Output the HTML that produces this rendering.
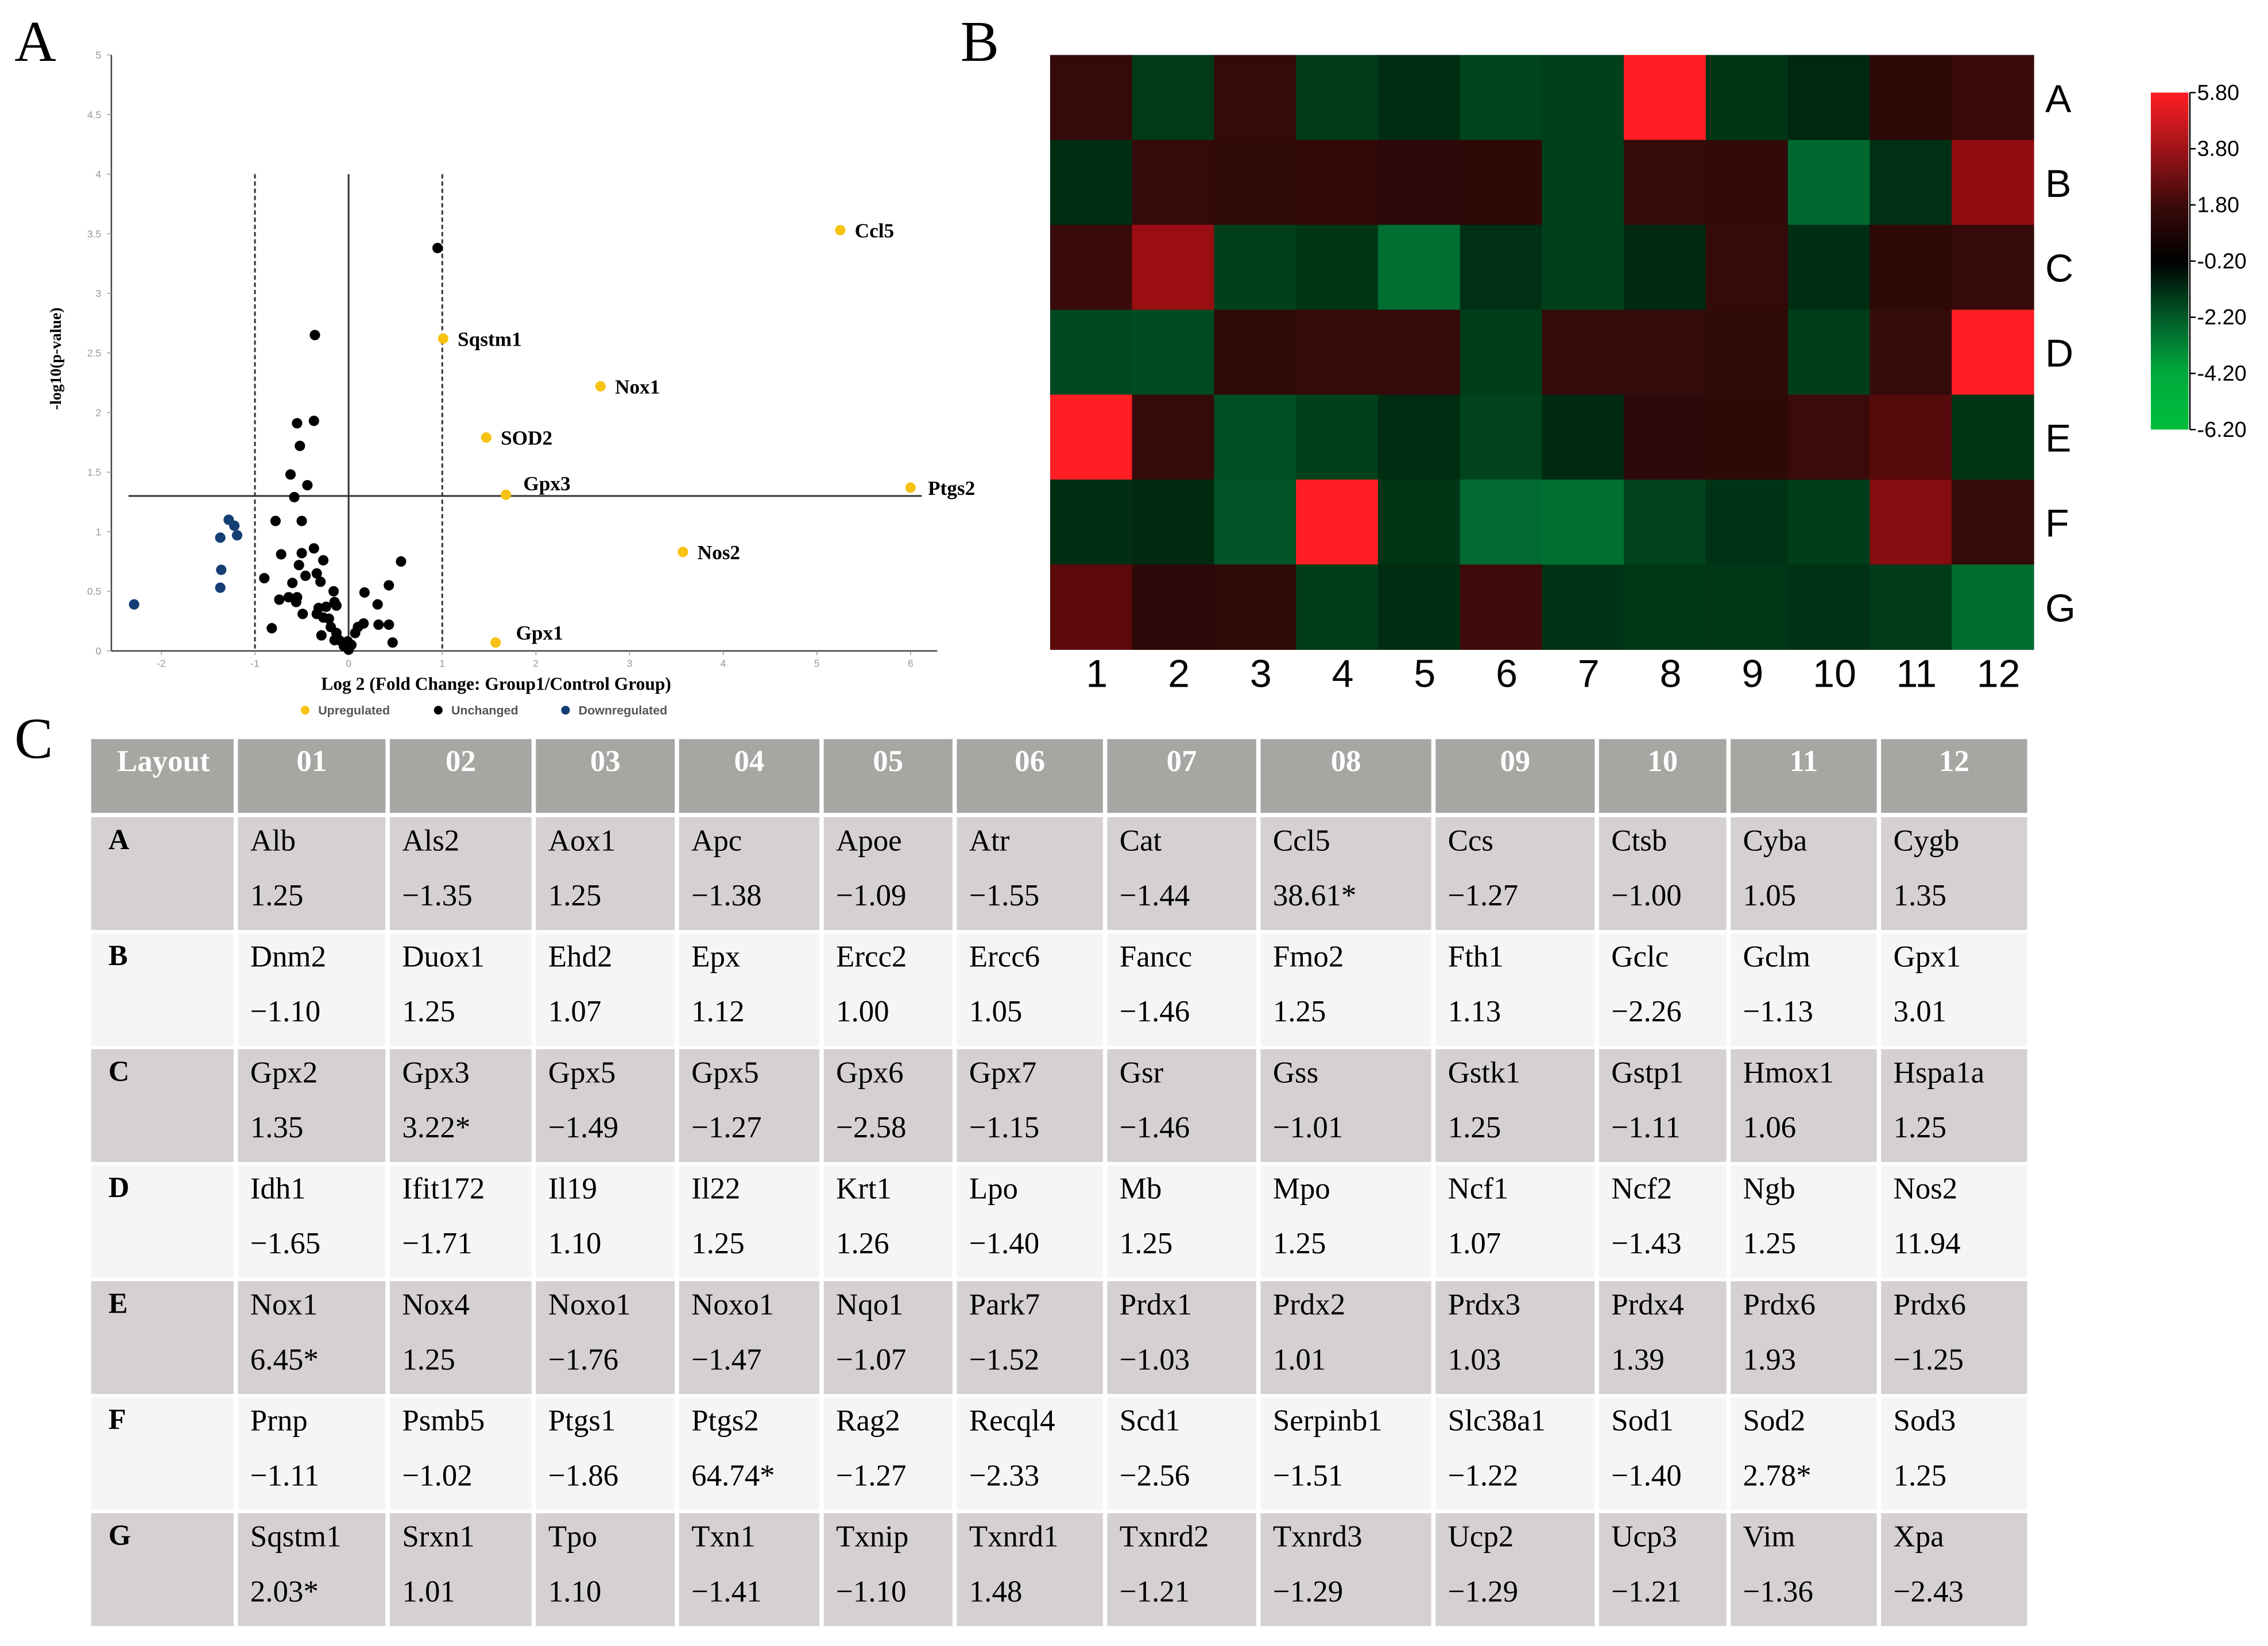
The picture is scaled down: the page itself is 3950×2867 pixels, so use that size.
<!DOCTYPE html>
<html><head><meta charset="utf-8">
<style>
html,body{margin:0;padding:0;background:#fff;}
svg{display:block;}
.serif{font-family:"Liberation Serif",serif;}
.sans{font-family:"Liberation Sans",sans-serif;}
</style></head>
<body>
<svg id="fig" width="3950" height="2867" viewBox="0 0 1568 1138" preserveAspectRatio="none" xmlns="http://www.w3.org/2000/svg">
<rect x="0" y="0" width="1568" height="1138" fill="#fff"/>
<text class="serif" x="10" y="42" font-size="40">A</text>
<text class="serif" x="664" y="42" font-size="40">B</text>
<text class="serif" x="10" y="524" font-size="40">C</text>
<g id="volcano"></g>
<g id="heat"></g>
<g id="table"></g>
</svg>
<script>
const NS="http://www.w3.org/2000/svg";
function mk(parent,tag,attrs,text){const e=document.createElementNS(NS,tag);for(const k in attrs)e.setAttribute(k,attrs[k]);if(text!==undefined)e.textContent=text;parent.appendChild(e);return e;}

// ---------- Volcano data ----------
const upLabels=["Ccl5","Sqstm1","Nox1","SOD2","Gpx3","Ptgs2","Nos2","Gpx1"];
const upX=[5.25,1.01,2.69,1.47,1.68,6.0,3.57,1.57];
const upY=[3.53,2.62,2.22,1.79,1.31,1.37,0.83,0.07];
const downX=[-1.28,-1.22,-1.37,-1.19,-1.36,-1.37,-2.29];
const downY=[1.10,1.05,0.95,0.97,0.68,0.53,0.39];
const unX=[0.95,-0.36,-0.55,-0.37,-0.52,-0.62,-0.44,-0.58,-0.78,-0.50,-0.72,-0.50,-0.37,-0.27,0.56,-0.53,-0.90,-0.46,-0.34,-0.60,-0.30,0.43,-0.16,0.17,-0.74,-0.64,-0.55,-0.56,0.31,-0.15,-0.13,-0.32,-0.24,-0.49,-0.34,-0.27,-0.21,0.16,0.32,0.43,-0.19,0.10,-0.82,-0.29,-0.13,0.07,-0.10,-0.01,0.03,-0.05,0.0,0.47,-0.15];
const unY=[3.38,2.65,1.91,1.93,1.72,1.48,1.39,1.29,1.09,1.09,0.81,0.82,0.86,0.76,0.75,0.72,0.61,0.63,0.65,0.57,0.58,0.55,0.50,0.49,0.43,0.45,0.45,0.41,0.39,0.41,0.38,0.36,0.37,0.31,0.31,0.28,0.27,0.23,0.22,0.22,0.20,0.20,0.19,0.13,0.15,0.15,0.09,0.08,0.05,0.04,0.01,0.07,0.09];
const xTicks=[-2,-1,0,1,2,3,4,5,6];
const yTicks=[0,0.5,1,1.5,2,2.5,3,3.5,4,4.5,5];
const yTickLabels=["0","0.5","1","1.5","2","2.5","3","3.5","4","4.5","5"];

const vx=v=>241+v*64.75;
const vy=v=>450-v*82.4;
const V=document.getElementById('volcano');
let ax=mk(V,'line',{x1:77,y1:38,x2:77,y2:450,stroke:'#444','stroke-width':1});


ax=mk(V,'line',{x1:77,y1:450,x2:648,y2:450,stroke:'#444','stroke-width':1});


xTicks.forEach(t=>{
  mk(V,'line',{x1:vx(t),y1:450,x2:vx(t),y2:453,stroke:'#888','stroke-width':0.5});
  const l=mk(V,'text',{x:vx(t),y:461,'font-size':7,fill:'#999','text-anchor':'middle',class:'sans'},String(t));
  
  
});
yTicks.forEach((t,i)=>{
  mk(V,'line',{x1:74,y1:vy(t),x2:77,y2:vy(t),stroke:'#888','stroke-width':0.5});
  const l=mk(V,'text',{x:70,y:vy(t)+2.5,'font-size':7,fill:'#999','text-anchor':'end',class:'sans'},yTickLabels[i]);
  
  
});
let th=mk(V,'line',{x1:vx(-1),y1:vy(4),x2:vx(-1),y2:450,stroke:'#333','stroke-width':1.2,'stroke-dasharray':'3,2'});


th=mk(V,'line',{x1:vx(1),y1:vy(4),x2:vx(1),y2:450,stroke:'#333','stroke-width':1.2,'stroke-dasharray':'3,2'});


th=mk(V,'line',{x1:vx(0),y1:vy(4),x2:vx(0),y2:450,stroke:'#333','stroke-width':1.2});


th=mk(V,'line',{x1:vx(-2.35),y1:vy(1.3),x2:vx(6.12),y2:vy(1.3),stroke:'#333','stroke-width':1.2});


unX.forEach((x,i)=>{const c=mk(V,'circle',{cx:vx(x),cy:vy(unY[i]),r:3.6,fill:'#000'});
  
  });
downX.forEach((x,i)=>{const c=mk(V,'circle',{cx:vx(x),cy:vy(downY[i]),r:3.6,fill:'#143e74'});
  
  });
const labOff={Gpx3:[12,-3],Gpx1:[14,-2],Ptgs2:[12,5]};
upX.forEach((x,i)=>{const c=mk(V,'circle',{cx:vx(x),cy:vy(upY[i]),r:3.6,fill:'#f7c211'});
  
  
  const o=labOff[upLabels[i]]||[10,5];
  const t=mk(V,'text',{x:vx(x)+o[0],y:vy(upY[i])+o[1],'font-size':14,'font-weight':'bold',class:'serif'},upLabels[i]);
  
  });
let tt=mk(V,'text',{x:343,y:477,'font-size':12.5,'font-weight':'bold','text-anchor':'middle',class:'serif'},'Log 2 (Fold Change: Group1/Control Group)');


tt=mk(V,'text',{x:0,y:0,'font-size':11,'font-weight':'bold','text-anchor':'middle',class:'serif',transform:'translate(42,248) rotate(-90)'},'-log10(p-value)');


const legItems=[["Upregulated","#f7c211",211],["Unchanged","#000",303],["Downregulated","#143e74",391]];
legItems.forEach(l=>{const g=mk(V,'g',{});
  
  
  mk(g,'circle',{cx:l[2],cy:491,r:3,fill:l[1]});
  mk(g,'text',{x:l[2]+9,y:494,'font-size':8.5,'font-weight':'bold',fill:'#555',class:'sans'},l[0]);});

// ---------- Heatmap / table data ----------
const rowLabels=["A","B","C","D","E","F","G"];
const colLabels=["1","2","3","4","5","6","7","8","9","10","11","12"];
const geneA=["Alb","Als2","Aox1","Apc","Apoe","Atr","Cat","Ccl5","Ccs","Ctsb","Cyba","Cygb"];
const geneB=["Dnm2","Duox1","Ehd2","Epx","Ercc2","Ercc6","Fancc","Fmo2","Fth1","Gclc","Gclm","Gpx1"];
const geneC=["Gpx2","Gpx3","Gpx5","Gpx5","Gpx6","Gpx7","Gsr","Gss","Gstk1","Gstp1","Hmox1","Hspa1a"];
const geneD=["Idh1","Ifit172","Il19","Il22","Krt1","Lpo","Mb","Mpo","Ncf1","Ncf2","Ngb","Nos2"];
const geneE=["Nox1","Nox4","Noxo1","Noxo1","Nqo1","Park7","Prdx1","Prdx2","Prdx3","Prdx4","Prdx6","Prdx6"];
const geneF=["Prnp","Psmb5","Ptgs1","Ptgs2","Rag2","Recql4","Scd1","Serpinb1","Slc38a1","Sod1","Sod2","Sod3"];
const geneG=["Sqstm1","Srxn1","Tpo","Txn1","Txnip","Txnrd1","Txnrd2","Txnrd3","Ucp2","Ucp3","Vim","Xpa"];
const valA=[1.25,-1.35,1.25,-1.38,-1.09,-1.55,-1.44,38.61,-1.27,-1.00,1.05,1.35];
const valB=[-1.10,1.25,1.07,1.12,1.00,1.05,-1.46,1.25,1.13,-2.26,-1.13,3.01];
const valC=[1.35,3.22,-1.49,-1.27,-2.58,-1.15,-1.46,-1.01,1.25,-1.11,1.06,1.25];
const valD=[-1.65,-1.71,1.10,1.25,1.26,-1.40,1.25,1.25,1.07,-1.43,1.25,11.94];
const valE=[6.45,1.25,-1.76,-1.47,-1.07,-1.52,-1.03,1.01,1.03,1.39,1.93,-1.25];
const valF=[-1.11,-1.02,-1.86,64.74,-1.27,-2.33,-2.56,-1.51,-1.22,-1.40,2.78,1.25];
const valG=[2.03,1.01,1.10,-1.41,-1.10,1.48,-1.21,-1.29,-1.29,-1.21,-1.36,-2.43];
const starA=[0,0,0,0,0,0,0,1,0,0,0,0];
const starB=[0,0,0,0,0,0,0,0,0,0,0,0];
const starC=[0,1,0,0,0,0,0,0,0,0,0,0];
const starD=[0,0,0,0,0,0,0,0,0,0,0,0];
const starE=[1,0,0,0,0,0,0,0,0,0,0,0];
const starF=[0,0,0,1,0,0,0,0,0,0,1,0];
const starG=[1,0,0,0,0,0,0,0,0,0,0,0];
const cbTicks=[5.8,3.8,1.8,-0.2,-2.2,-4.2,-6.2];
const genes=[geneA,geneB,geneC,geneD,geneE,geneF,geneG];
const vals=[valA,valB,valC,valD,valE,valF,valG];
const stars=[starA,starB,starC,starD,starE,starF,starG];

const stops=[[-6.2,[0,190,60]],[-2.3,[0,105,48]],[-1.5,[0,66,28]],[-1.0,[0,40,16]],[-0.2,[0,0,0]],[1.0,[46,8,8]],[1.25,[52,10,10]],[2.0,[90,10,12]],[3.0,[145,12,16]],[5.8,[255,30,36]]];
function colorOf(v){v=Math.max(-6.2,Math.min(5.8,v));
  for(let i=0;i<stops.length-1;i++){const a=stops[i],b=stops[i+1];
    if(v>=a[0]&&v<=b[0]){const t=(v-a[0])/(b[0]-a[0]);const c=a[1].map((x,k)=>Math.round(x+(b[1][k]-x)*t));return `rgb(${c[0]},${c[1]},${c[2]})`;}}
  return '#000';}

const H=document.getElementById('heat');
const hx0=726,hx1=1406,hy0=38,hy1=449;
const cw=(hx1-hx0)/colLabels.length, ch=(hy1-hy0)/rowLabels.length;
vals.forEach((row,r)=>row.forEach((v,c)=>{
  const cell=mk(H,'rect',{x:hx0+c*cw,y:hy0+r*ch,width:cw+0.3,height:ch+0.3,fill:colorOf(v)});
  
  
}));
rowLabels.forEach((l,r)=>{const t=mk(H,'text',{x:1414,y:hy0+r*ch+ch/2+10,'font-size':27,class:'sans'},l);
  
  });
colLabels.forEach((l,c)=>{const t=mk(H,'text',{x:hx0+c*cw+cw/2+4,y:475,'font-size':27,'text-anchor':'middle',class:'sans'},l);
  
  });
const defs=mk(H,'defs',{});
const grad=mk(defs,'linearGradient',{id:'cb',x1:0,y1:0,x2:0,y2:1});
const cbStops=[[5.8,[255,30,36]],[3.8,[160,20,25]],[1.8,[60,10,10]],[-0.2,[0,0,0]],[-2.2,[0,90,40]],[-4.2,[0,170,60]],[-6.2,[0,190,60]]];
cbStops.forEach(s=>mk(grad,'stop',{offset:(5.8-s[0])/12,'stop-color':`rgb(${s[1][0]},${s[1][1]},${s[1][2]})`}));
const cbx=1487,cby0=64,cby1=297;
const cbv=v=>cby0+(5.8-v)/12*(cby1-cby0);
const cb=mk(H,'rect',{x:cbx,y:cby0,width:26,height:cby1-cby0,fill:'url(#cb)'});


mk(H,'line',{x1:1514,y1:cby0,x2:1514,y2:cby1,stroke:'#000','stroke-width':1});
cbTicks.forEach(t=>{mk(H,'line',{x1:1514,y1:cbv(t),x2:1518,y2:cbv(t),stroke:'#000','stroke-width':1});
  const l=mk(H,'text',{x:1519,y:cbv(t)+5,'font-size':15,class:'sans'},t.toFixed(2));
  
  });

// ---------- Table ----------
const T=document.getElementById('table');
const colEdges=[63,163,268,369,468,568,660,764,870,991,1104,1195,1299,1403];
const headers=["Layout","01","02","03","04","05","06","07","08","09","10","11","12"];
headers.forEach((h,i)=>{
  const r=mk(T,'rect',{x:colEdges[i]+(i?1.5:0),y:511,width:colEdges[i+1]-colEdges[i]-(i?3:1.5),height:51,fill:'#a6a6a2'});
  
  
  const t=mk(T,'text',{x:(colEdges[i]+colEdges[i+1])/2,y:533,'font-size':21,'font-weight':'bold',fill:'#fff','text-anchor':'middle',class:'serif'},h);
  
  
});
rowLabels.forEach((rl,r)=>{
  const y0=565+r*80.2, fill=(r%2===0)?'#d5d1d2':'#f4f5f7';
  const rc=mk(T,'rect',{x:63,y:y0,width:98.5,height:78,fill:fill});
  
  
  const lt=mk(T,'text',{x:75,y:y0+22,'font-size':20,'font-weight':'bold',class:'serif'},rl);
  
  
  genes[r].forEach((g,c)=>{
    const x0=colEdges[c+1]+1.5, w=colEdges[c+2]-colEdges[c+1]-3;
    const cell=mk(T,'rect',{x:x0,y:y0,width:w,height:78,fill:fill});
    
    
    const gt=mk(T,'text',{x:colEdges[c+1]+10,y:y0+23,'font-size':21,class:'serif'},g);
    
    
    const v=vals[r][c];
    const s=(v<0?'\u2212':'')+Math.abs(v).toFixed(2)+(stars[r][c]?'*':'');
    const vt=mk(T,'text',{x:colEdges[c+1]+10,y:y0+61,'font-size':21,class:'serif'},s);
    
    
  });
});
</script>
</body></html>
